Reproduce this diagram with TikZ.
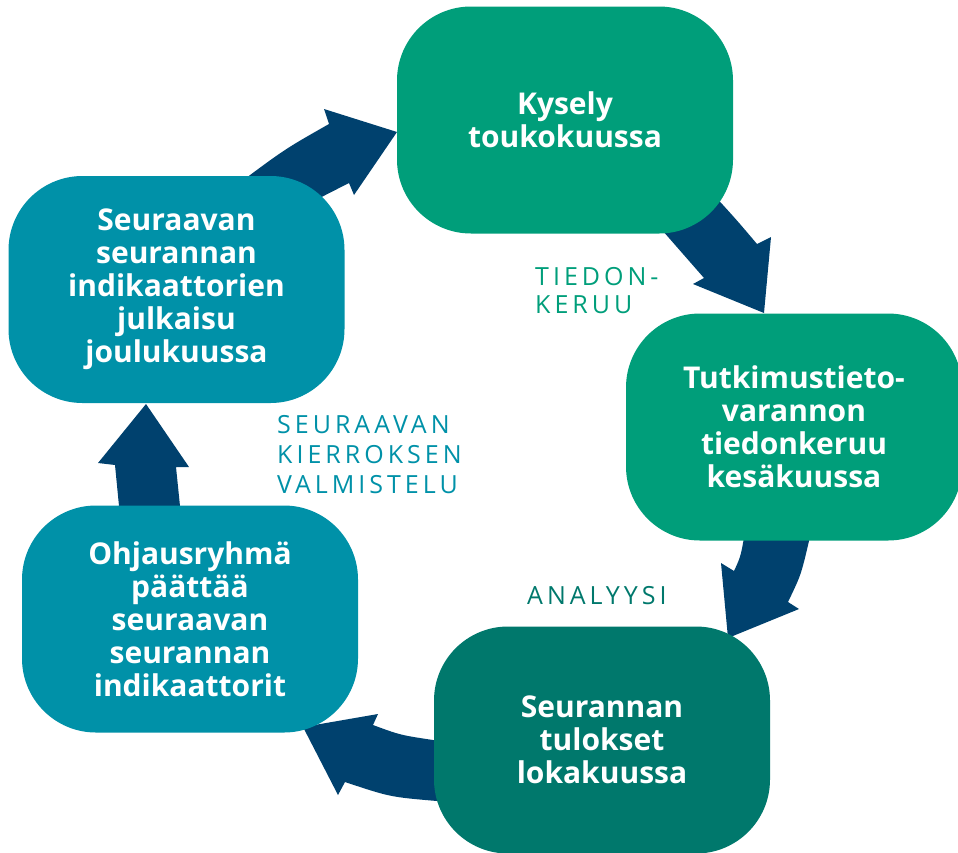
\documentclass[tikz,border=0pt]{standalone}
\usepackage{fontspec}
\setmainfont{Open Sans}
\newfontfamily\lblfont[LetterSpace=16]{Open Sans}
\definecolor{cgreen}{RGB}{0,158,122}
\definecolor{cdteal}{RGB}{0,120,108}
\definecolor{cblue}{RGB}{0,145,168}
\definecolor{cnavy}{RGB}{0,65,110}
\begin{document}
\begin{tikzpicture}[x=1pt,y=-1pt,
  box/.style={rectangle, rounded corners=74pt, minimum width=336pt, minimum height=227pt,
    inner sep=0pt, align=center, text=white, font=\fontsize{30}{33}\selectfont\bfseries},
  blockarrow/.style={fill=cnavy, draw=none},
  lbl/.style={inner sep=0pt, anchor=north west, align=left}]
\useasboundingbox (0,0) rectangle (958,852);
\clip (0,0) rectangle (958,852);
% block arrows
\fill[blockarrow] (238,184) .. controls (285,149) .. (329,124) -- (324,109) -- (397,132)
  -- (354,195) -- (349,183) -- (300,208) -- cycle;
\fill[blockarrow] (700,180) .. controls (735,218) .. (757,244) -- (771,237) -- (764,313)
  -- (693,284) -- (704,278) -- (655,222) -- cycle;
\fill[blockarrow] (812,522) -- (809,541) .. controls (801,575) .. (788,602) -- (799,609)
  -- (728,638) -- (721,563) -- (734,571) .. controls (741,556) .. (746,525) -- cycle;
\fill[blockarrow] (455,742) -- (433,740) .. controls (400,735) .. (373,725) -- (378,714)
  -- (303,727) -- (338,795) -- (345,782) .. controls (390,797) .. (437,801) -- (455,800) -- cycle;
\fill[blockarrow] (115,465) -- (98,463) -- (146,404) -- (189,467) -- (176,467) -- (180,506)
  -- (185,522) -- (118,522) -- (119,506) -- cycle;
% boxes
\node[box, fill=cgreen] (n1) at (565,120) {Kysely\\toukokuussa};
\node[box, fill=cgreen] (n2) at (794,427) {Tutkimustieto-\\varannon\\tiedonkeruu\\kesäkuussa};
\node[box, fill=cdteal] (n3) at (602,740) {Seurannan\\tulokset\\lokakuussa};
\node[box, fill=cblue] (n4) at (190,619) {Ohjausryhmä\\päättää\\seuraavan\\seurannan\\indikaattorit};
\node[box, fill=cblue] (n5) at (176.5,289.5) {Seuraavan\\seurannan\\indikaattorien\\julkaisu\\joulukuussa};
% labels
\node[lbl, text=cgreen, font=\lblfont\fontsize{25}{28}\selectfont] (l1) at (535,267) {TIEDON-\\KERUU};
\node[lbl, text=cblue, font=\lblfont\fontsize{25}{30}\selectfont] (l2) at (277,415) {SEURAAVAN\\KIERROKSEN\\VALMISTELU};
\node[lbl, text=cdteal, font=\lblfont\fontsize{25}{30}\selectfont] (l3) at (527,586) {ANALYYSI};
\end{tikzpicture}
\end{document}
